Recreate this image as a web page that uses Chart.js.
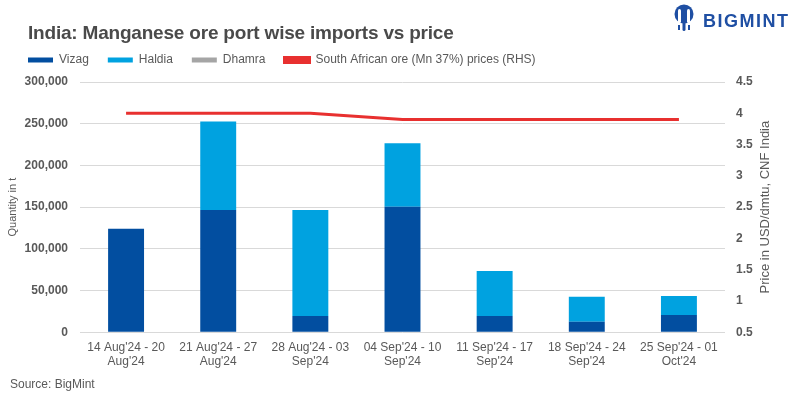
<!DOCTYPE html>
<html>
<head>
<meta charset="utf-8">
<script src="https://cdn.jsdelivr.net/npm/chart.js@4"></script>
<style>
  body { margin: 0; background: #fff; }
  #wrap { position: relative; width: 800px; height: 399px; background: #fff; font-family: "Liberation Sans", Arial, sans-serif; }
  #title { position: absolute; left: 28px; top: 23px; font-size: 19px; line-height: 19px; font-weight: bold; color: #4a4a4a; letter-spacing: -0.2px; white-space: nowrap; }
  #logo { position: absolute; left: 673px; top: 3px; height: 30px; }
  #logo span { position: absolute; left: 30px; top: 9px; font-size: 18px; line-height: 18px; font-weight: bold; color: #1f4fa3; letter-spacing: 1.5px; }
  #source { position: absolute; left: 10px; top: 378px; font-size: 12px; line-height: 12px; color: #595959; }
</style>
</head>
<body>
<div id="wrap">
  <canvas id="myChart" width="800" height="399"></canvas>
  <div id="title">India: Manganese ore port wise imports vs price</div>
  <div id="logo">
    <svg width="24" height="30" viewBox="0 0 24 30">
      <circle cx="11" cy="11" r="9.5" fill="#1f4fa3"/>
      <rect x="5" y="6" width="3" height="14" rx="1.5" fill="#fff"/>
      <rect x="14" y="6" width="3" height="14" rx="1.5" fill="#fff"/>
      <rect x="9.5" y="10" width="3" height="18" rx="1.5" fill="#1f4fa3"/>
      <rect x="5" y="22" width="2" height="5" fill="#1f4fa3"/>
      <rect x="15" y="22" width="2" height="5" fill="#1f4fa3"/>
    </svg>
    <span>BIGMINT</span>
  </div>
  <div id="source">Source: BigMint</div>
</div>
<script>
// weekly periods along the x-axis
var weeks = [
  ["14 Aug'24 - 20", "Aug'24"],
  ["21 Aug'24 - 27", "Aug'24"],
  ["28 Aug'24 - 03", "Sep'24"],
  ["04 Sep'24 - 10", "Sep'24"],
  ["11 Sep'24 - 17", "Sep'24"],
  ["18 Sep'24 - 24", "Sep'24"],
  ["25 Sep'24 - 01", "Oct'24"]
];

// port wise imports in tonnes
var vizag  = [124000, 146500, 19500, 150500, 19500, 12500, 20500];
var haldia = [0, 106000, 127000, 76000, 54000, 30000, 23000];
var dhamra = [0, 0, 0, 0, 0, 0, 0];

// South African ore price, USD/dmtu
var price = [4.0, 4.0, 4.0, 3.9, 3.9, 3.9, 3.9];

var rightTitle = "Price in USD/dmtu, CNF India";

var fontFamily = "'Liberation Sans', Arial, sans-serif";
var tickFont = { family: fontFamily, size: 12, weight: "bold", lineHeight: 1 };
var grey = "#595959";

// give the legend a bit more room under it so the plot starts lower
var legendGap = {
  id: "legendGap",
  beforeInit: function(chart) {
    var fit = chart.legend.fit;
    chart.legend.fit = function() {
      fit.bind(chart.legend)();
      this.height += 6;
    };
  }
};

// right axis title reads bottom-to-top like the left one
var rightAxisTitle = {
  id: "rightAxisTitle",
  afterDraw: function(chart) {
    var s = chart.scales.y1;
    var c = chart.ctx;
    c.save();
    c.translate(s.right - 11, (chart.chartArea.top + chart.chartArea.bottom) / 2);
    c.rotate(-Math.PI / 2);
    c.font = "13px " + fontFamily;
    c.fillStyle = grey;
    c.textAlign = "center";
    c.textBaseline = "middle";
    c.fillText(rightTitle, 0, 0);
    c.restore();
  }
};

var ctx = document.getElementById("myChart");
var myChart = new Chart(ctx, {
  type: "bar",
  data: {
    labels: weeks,
    datasets: [
      { label: "Vizag", data: vizag, backgroundColor: "#024ea0", order: 2 },
      { label: "Haldia", data: haldia, backgroundColor: "#00a2e0", order: 2 },
      { label: "Dhamra", data: dhamra, backgroundColor: "#a5a5a5", order: 2 },
      {
        type: "line",
        label: "South African ore (Mn 37%) prices (RHS)",
        data: price,
        yAxisID: "y1",
        borderColor: "#e8302f",
        backgroundColor: "#e8302f",
        borderWidth: 3,
        pointRadius: 0,
        tension: 0,
        fill: false,
        order: 1
      }
    ]
  },
  plugins: [legendGap, rightAxisTitle],
  options: {
    responsive: false,
    animation: false,
    devicePixelRatio: 1,
    locale: "en-US",
    layout: { padding: { left: 9, right: 24, top: 35, bottom: 22 } },
    datasets: { bar: { barPercentage: 0.39, categoryPercentage: 1 } },
    plugins: {
      tooltip: { enabled: false },
      legend: {
        position: "top",
        align: "start",
        labels: {
          boxWidth: 25,
          boxHeight: 5,
          padding: 19,
          color: grey,
          sort: function(a, b) { return a.datasetIndex - b.datasetIndex; },
          font: { family: fontFamily, size: 12, lineHeight: 1 }
        }
      }
    },
    scales: {
      x: {
        stacked: true,
        grid: { display: false, drawTicks: false },
        border: { display: false },
        ticks: {
          color: grey,
          padding: 8,
          maxRotation: 0,
          autoSkip: false,
          font: { family: fontFamily, size: 12 }
        }
      },
      y: {
        stacked: true,
        min: 0,
        max: 300000,
        border: { display: false },
        grid: { color: "#d9d9d9", drawTicks: false },
        afterFit: function(scale) { scale.width = 71; },
        ticks: { stepSize: 50000, color: grey, padding: 12, font: tickFont },
        title: {
          display: true,
          text: "Quantity in t",
          color: grey,
          padding: { top: -3, bottom: 4 },
          font: { family: fontFamily, size: 11 }
        }
      },
      y1: {
        position: "right",
        min: 0.5,
        max: 4.5,
        border: { display: false },
        grid: { display: false, drawTicks: false },
        afterFit: function(scale) { scale.width = 51; },
        ticks: {
          stepSize: 0.5,
          color: grey,
          padding: 11,
          font: tickFont,
          callback: function(v) { return String(Math.round(v * 10) / 10); }
        }
      }
    }
  }
});
</script>
</body>
</html>
